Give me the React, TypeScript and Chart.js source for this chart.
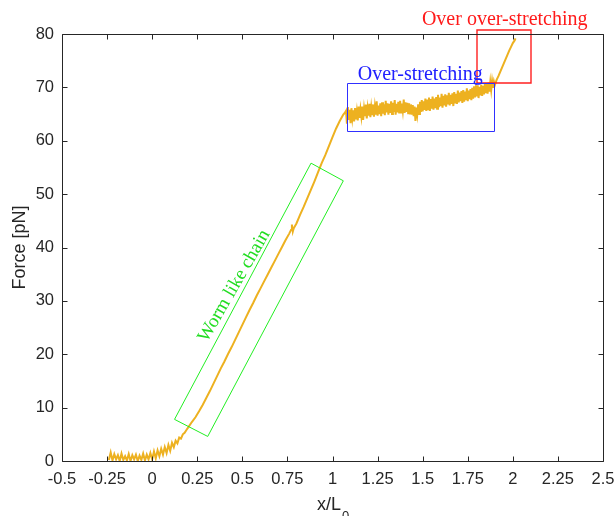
import React, { useEffect, useRef } from "react";
import { Chart, registerables } from "chart.js";
Chart.register(...registerables);

// ---------- data ----------
// baseline and worm-like-chain rise
const riseX = [
  -0.24, -0.23, -0.22, -0.21, -0.2, -0.19, -0.18, -0.17, -0.16, -0.15, -0.14, -0.13, -0.12, -0.11, -0.1,
  -0.09, -0.08, -0.07, -0.06, -0.05, -0.04, -0.03, -0.02, -0.01, 0.0, 0.01, 0.02, 0.03, 0.04, 0.05,
  0.06, 0.07, 0.08, 0.09, 0.1, 0.11, 0.12, 0.13, 0.14, 0.15, 0.16, 0.17, 0.18, 0.19, 0.2,
  0.22, 0.24, 0.26, 0.28, 0.3, 0.32, 0.34, 0.36, 0.38, 0.4, 0.42, 0.44, 0.46, 0.48, 0.5,
  0.52, 0.54, 0.56, 0.58, 0.6, 0.62, 0.64, 0.66, 0.68, 0.7, 0.72, 0.74, 0.76, 0.77, 0.775,
  0.78, 0.785, 0.8, 0.82, 0.84, 0.86, 0.88, 0.9, 0.92, 0.94, 0.96, 0.98, 1.0, 1.02, 1.04,
  1.06, 1.07,
];
const riseF = [
  0.2, 1.6, 0.1, 1.3, 0.3, 1.1, 0.0, 1.4, 0.2, 0.9, 0.1, 1.3, 0.0, 1.1, 0.3,
  1.2, 0.0, 1.0, 0.2, 1.4, 0.1, 1.2, 0.3, 1.5, 0.3, 1.8, 0.5, 2.0, 0.9, 2.3,
  1.2, 2.6, 1.5, 3.0, 1.9, 3.4, 2.6, 3.8, 3.3, 4.4, 4.2, 5.0, 5.3, 5.8, 6.3,
  7.3, 8.2, 9.3, 10.5, 11.8, 13.1, 14.5, 15.9, 17.3, 18.6, 20.0, 21.3, 22.7, 24.1, 25.5,
  26.9, 28.3, 29.6, 31.0, 32.3, 33.6, 34.9, 36.2, 37.5, 38.8, 40.1, 41.4, 42.6, 43.3, 44.3,
  43.0, 43.6, 44.5, 46.1, 47.6, 49.2, 50.8, 52.4, 54.1, 55.8, 57.3, 59.0, 60.7, 62.3, 63.7,
  64.9, 65.3,
];
// over-stretching plateau
const plateauX = [
  1.075, 1.08, 1.085, 1.09, 1.095, 1.1, 1.105, 1.11, 1.115, 1.12,
  1.125, 1.13, 1.135, 1.14, 1.145, 1.15, 1.155, 1.16, 1.165, 1.17,
  1.175, 1.18, 1.185, 1.19, 1.195, 1.2, 1.205, 1.21, 1.215, 1.22,
  1.225, 1.23, 1.235, 1.24, 1.245, 1.25, 1.255, 1.26, 1.265, 1.27,
  1.275, 1.28, 1.285, 1.29, 1.295, 1.3, 1.305, 1.31, 1.315, 1.32,
  1.325, 1.33, 1.335, 1.34, 1.345, 1.35, 1.355, 1.36, 1.365, 1.37,
  1.375, 1.38, 1.385, 1.39, 1.395, 1.4, 1.405, 1.41, 1.415, 1.42,
  1.425, 1.43, 1.435, 1.44, 1.445, 1.45, 1.455, 1.46, 1.465, 1.47,
  1.475, 1.48, 1.485, 1.49, 1.495, 1.5, 1.505, 1.51, 1.515, 1.52,
  1.525, 1.53, 1.535, 1.54, 1.545, 1.55, 1.555, 1.56, 1.565, 1.57,
  1.575, 1.58, 1.585, 1.59, 1.595, 1.6, 1.605, 1.61, 1.615, 1.62,
  1.625, 1.63, 1.635, 1.64, 1.645, 1.65, 1.655, 1.66, 1.665, 1.67,
  1.675, 1.68, 1.685, 1.69, 1.695, 1.7, 1.705, 1.71, 1.715, 1.72,
  1.725, 1.73, 1.735, 1.74, 1.745, 1.75, 1.755, 1.76, 1.765, 1.77,
  1.775, 1.78, 1.785, 1.79, 1.795, 1.8, 1.805, 1.81, 1.815, 1.82,
  1.825, 1.83, 1.835, 1.84, 1.845, 1.85, 1.855, 1.86, 1.865, 1.87,
  1.875, 1.88, 1.885, 1.89, 1.895, 1.9,
];
const plateauF = [
  65.6, 63.2, 66.3, 63.9, 65.8, 63.3, 66.1, 64.2, 65.7, 63.6,
  66.1, 64.0, 65.5, 63.8, 66.4, 64.3, 65.9, 64.5, 66.4, 63.9,
  66.0, 64.6, 66.8, 64.2, 66.1, 64.7, 66.9, 64.4, 66.3, 64.8,
  66.8, 64.5, 66.4, 64.9, 67.4, 64.7, 66.6, 65.0, 67.0, 64.6,
  67.2, 65.1, 66.8, 64.8, 67.5, 65.3, 67.0, 64.9, 66.9, 65.2,
  67.4, 65.0, 67.1, 65.4, 67.6, 64.9, 66.9, 65.3, 67.3, 65.1,
  67.5, 65.3, 67.0, 65.6, 67.7, 65.2, 67.2, 65.4, 67.1, 65.0,
  67.0, 65.1, 66.8, 64.9, 66.7, 64.6, 66.4, 63.7, 66.2, 64.9,
  66.8, 65.0, 67.3, 65.4, 67.6, 65.5, 67.4, 65.8, 67.9, 65.6,
  67.7, 65.9, 68.1, 65.6, 67.8, 66.0, 68.3, 65.8, 67.9, 66.1,
  68.2, 66.0, 68.6, 66.3, 68.1, 66.5, 68.8, 66.2, 68.4, 66.6,
  68.7, 66.4, 68.5, 66.8, 69.0, 66.6, 68.6, 66.9, 68.9, 66.5,
  69.1, 67.0, 68.8, 66.9, 69.4, 67.2, 69.0, 67.4, 69.3, 67.1,
  69.5, 67.3, 69.2, 67.6, 69.8, 67.4, 69.4, 67.8, 69.7, 67.6,
  69.9, 67.9, 70.2, 68.1, 69.8, 68.3, 70.4, 68.0, 70.1, 68.5,
  70.5, 68.4, 70.3, 68.7, 70.8, 68.9, 70.6, 68.8, 70.9, 69.2,
  71.0, 69.5, 71.2, 69.9, 71.1, 70.4,
];
// over over-stretching rise
const finalX = [1.905, 1.91, 1.92, 1.93, 1.94, 1.95, 1.96, 1.97, 1.98, 1.99, 2.0, 2.01, 2.015];
const finalF = [70.9, 71.4, 72.1, 72.9, 73.7, 74.5, 75.3, 76.1, 76.9, 77.6, 78.3, 78.8, 79.2];

const xTickValues = [-0.5, -0.25, 0, 0.25, 0.5, 0.75, 1, 1.25, 1.5, 1.75, 2, 2.25, 2.5];
const yTickValues = [0, 10, 20, 30, 40, 50, 60, 70, 80];

// annotations (data coordinates)
const overStretchBoxX = [1.078, 1.897];
const overStretchBoxY = [61.9, 70.8];
const overStretchLabel = "Over-stretching";
const overStretchLabelPos = [1.14, 71.4];
const overOverBoxX = [1.8, 2.1];
const overOverBoxY = [70.8, 80.8];
const overOverLabel = "Over over-stretching";
const overOverLabelPos = [1.955, 81.6];
const wlcPolyX = [0.881, 1.06, 0.308, 0.124];
const wlcPolyY = [55.8, 52.5, 4.6, 7.8];
const wlcLabel = "Worm like chain";
const wlcLabelPos = [0.455, 32.8];

const AXIS = "#262626";
const LINE = "#EDB120";
const SANS = "'Liberation Sans', Arial, sans-serif";
const SERIF = "'Liberation Serif', 'Times New Roman', serif";

const decor = {
  id: "decor",
  afterDatasetsDraw(chart: any) {
    const { ctx, chartArea: a, scales } = chart;
    const sx = scales.x;
    const sy = scales.y;
    const px = (v: number) => sx.getPixelForValue(v);
    const py = (v: number) => sy.getPixelForValue(v);
    ctx.save();
    ctx.globalCompositeOperation = "source-over";
    ctx.globalAlpha = 1;
    ctx.setLineDash([]);
    ctx.lineCap = "butt";
    ctx.lineJoin = "miter";

    const box = (xs: number[], ys: number[], color: string, w: number, off: number) => {
      const x0 = Math.round(px(xs[0])) + off;
      const x1 = Math.round(px(xs[1])) + off;
      const y0 = Math.round(py(ys[1])) + off;
      const y1 = Math.round(py(ys[0])) + off;
      ctx.strokeStyle = color;
      ctx.lineWidth = w;
      ctx.beginPath();
      ctx.moveTo(x0, y0);
      ctx.lineTo(x1, y0);
      ctx.lineTo(x1, y1);
      ctx.lineTo(x0, y1);
      ctx.closePath();
      ctx.stroke();
    };

    // green
    ctx.strokeStyle = "#22ee22";
    ctx.lineWidth = 1;
    ctx.beginPath();
    wlcPolyX.forEach((v, i) => {
      const X = px(v);
      const Y = py(wlcPolyY[i]);
      if (i === 0) ctx.moveTo(X, Y);
      else ctx.lineTo(X, Y);
    });
    ctx.closePath();
    ctx.stroke();
    ctx.save();
    ctx.translate(px(wlcLabelPos[0]), py(wlcLabelPos[1]));
    ctx.rotate((-60 * Math.PI) / 180);
    ctx.font = `19px ${SERIF}`;
    ctx.fillStyle = "#22dd22";
    ctx.textAlign = "center";
    ctx.textBaseline = "middle";
    ctx.fillText(wlcLabel, 0, 0);
    ctx.restore();

    // red (blue overlaps its bottom edge)
    box(overOverBoxX, overOverBoxY, "#ff2020", 1.4, 0);
    ctx.font = `20px ${SERIF}`;
    ctx.fillStyle = "#ff1a1a";
    ctx.textAlign = "center";
    ctx.textBaseline = "alphabetic";
    ctx.fillText(overOverLabel, px(overOverLabelPos[0]), py(overOverLabelPos[1]));
    // blue
    box(overStretchBoxX, overStretchBoxY, "#3030ff", 1, 0.5);
    ctx.fillStyle = "#2020ff";
    ctx.textAlign = "left";
    ctx.fillText(overStretchLabel, px(overStretchLabelPos[0]), py(overStretchLabelPos[1]));

    // axes box
    const L = Math.round(a.left) + 0.5;
    const R = Math.round(a.right) + 0.5;
    const T = Math.round(a.top) + 0.5;
    const B = Math.round(a.bottom) + 0.5;
    ctx.strokeStyle = AXIS;
    ctx.lineWidth = 1;
    ctx.beginPath();
    ctx.moveTo(L, T);
    ctx.lineTo(R, T);
    ctx.lineTo(R, B);
    ctx.lineTo(L, B);
    ctx.closePath();
    ctx.stroke();
    // inward ticks
    const tl = 5;
    ctx.beginPath();
    xTickValues.forEach((v) => {
      const X = Math.round(px(v)) + 0.5;
      ctx.moveTo(X, B);
      ctx.lineTo(X, B - tl);
      ctx.moveTo(X, T);
      ctx.lineTo(X, T + tl);
    });
    yTickValues.forEach((v) => {
      const Y = Math.round(py(v)) + 0.5;
      ctx.moveTo(L, Y);
      ctx.lineTo(L + tl, Y);
      ctx.moveTo(R, Y);
      ctx.lineTo(R - tl, Y);
    });
    ctx.stroke();

    // axis titles
    ctx.fillStyle = AXIS;
    ctx.textAlign = "left";
    ctx.textBaseline = "alphabetic";
    const main = "x/L";
    const sub = "0";
    ctx.font = `18px ${SANS}`;
    const wMain = ctx.measureText(main).width;
    ctx.font = `13px ${SANS}`;
    const wSub = ctx.measureText(sub).width;
    const cx = (a.left + a.right) / 2;
    const x0 = cx - (wMain + wSub) / 2;
    ctx.font = `18px ${SANS}`;
    ctx.fillText(main, x0, 510);
    ctx.font = `13px ${SANS}`;
    ctx.fillText(sub, x0 + wMain + 1, 520);

    ctx.save();
    ctx.translate(20, (a.top + a.bottom) / 2);
    ctx.rotate(-Math.PI / 2);
    ctx.font = `18px ${SANS}`;
    ctx.textAlign = "center";
    ctx.textBaseline = "middle";
    ctx.fillText("Force [pN]", 0, 0);
    ctx.restore();

    ctx.restore();
  },
};

export default function App() {
  const ref = useRef<HTMLCanvasElement>(null);
  useEffect(() => {
    if (!ref.current) return;
    const xs = [...riseX, ...plateauX, ...finalX];
    const fs = [...riseF, ...plateauF, ...finalF];
    const points = xs.map((x, i) => ({ x, y: fs[i] }));
    const chart = new Chart(ref.current, {
      type: "line",
      data: {
        datasets: [
          {
            data: points,
            borderColor: LINE,
            backgroundColor: LINE,
            borderWidth: 2,
            pointRadius: 0,
            tension: 0,
          },
        ],
      },
      options: {
        responsive: false,
        animation: false,
        layout: { padding: { top: 34, right: 13, left: 0, bottom: 0 } },
        plugins: { legend: { display: false }, tooltip: { enabled: false } },
        scales: {
          x: {
            type: "linear",
            min: -0.5,
            max: 2.5,
            afterBuildTicks: (s: any) => {
              s.ticks = xTickValues.map((v) => ({ value: v }));
            },
            afterFit: (s: any) => {
              s.height = 55;
              s.paddingLeft = 0;
              s.paddingRight = 0;
            },
            grid: { display: false, drawTicks: false },
            border: { display: false },
            ticks: {
              color: AXIS,
              font: { family: SANS, size: 16.5 },
              padding: 9,
              maxRotation: 0,
              autoSkip: false,
              callback: (v: any) => String(v),
            },
          },
          y: {
            min: 0,
            max: 80,
            afterBuildTicks: (s: any) => {
              s.ticks = yTickValues.map((v) => ({ value: v }));
            },
            afterFit: (s: any) => {
              s.width = 62;
              s.paddingTop = 0;
              s.paddingBottom = 0;
            },
            grid: { display: false, drawTicks: false },
            border: { display: false },
            ticks: {
              color: AXIS,
              font: { family: SANS, size: 16.5 },
              padding: 8,
              callback: (v: any) => String(v),
            },
          },
        },
      },
      plugins: [decor],
    });
    return () => chart.destroy();
  }, []);
  return (
    <div style={{ position: "fixed", left: 0, top: 0, width: 616, height: 516, background: "#fff" }}>
      <canvas ref={ref} width={616} height={516} style={{ display: "block" }} />
    </div>
  );
}
